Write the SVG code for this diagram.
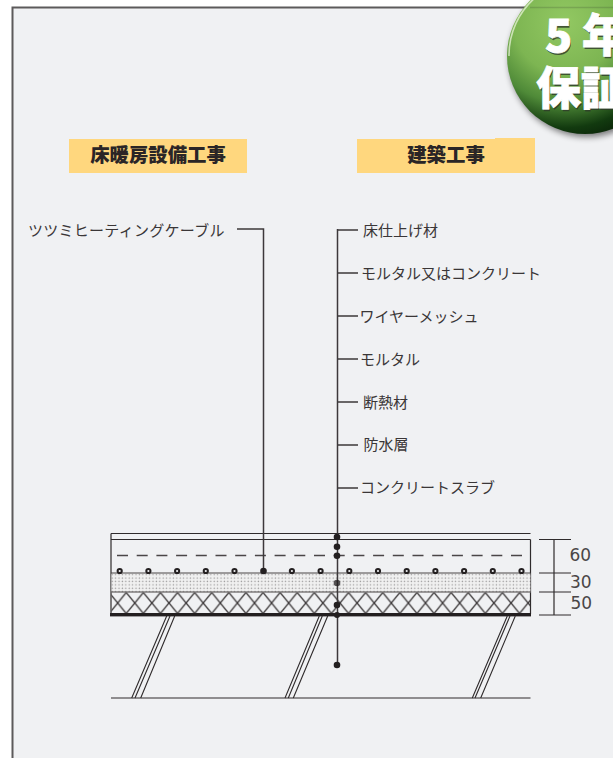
<svg xmlns="http://www.w3.org/2000/svg" width="613" height="758" viewBox="0 0 613 758">
<defs>
<style>
.ln{stroke:#2f2b2c;stroke-width:1.2;fill:none}
.ld{stroke:#3c383a;stroke-width:1.5;fill:none}
.lb{font-family:"Noto Sans CJK JP","Noto Sans",sans-serif;font-size:15px;fill:#3a3637}
.hd{font-family:"Noto Sans CJK JP","Noto Sans",sans-serif;font-size:19.4px;font-weight:900;fill:#2a2526;text-anchor:middle}
.bd{fill:#ffd77e}
.dm{font-family:"DejaVu Sans",sans-serif;font-size:17px;fill:#4a4647}
.dot{fill:#231f20}
.ring{fill:#f0f1f3;stroke:#231f20;stroke-width:2}
.bt{font-family:"Noto Sans CJK JP",sans-serif;font-size:45px;font-weight:900;fill:#fff;stroke:#fff;stroke-width:.8}
.bs{font-family:"Noto Sans CJK JP",sans-serif;font-size:45px;font-weight:900;fill:#2f3a2a;opacity:.8}
</style>
<pattern id="sand" width="3.4" height="3.4" patternUnits="userSpaceOnUse" x="111" y="573.5"><rect width="3.4" height="3.4" fill="#f0f0f0"/><circle cx="1.2" cy="1.2" r=".7" fill="#9c9a9b"/></pattern>
<pattern id="hatch" width="17.1" height="21" patternUnits="userSpaceOnUse" x="109.15" y="592.5"><path d="M0 0L17.1 21M17.1 0L0 21" stroke="#2f2b2c" stroke-width="1.2" fill="none"/></pattern>
<radialGradient id="gb" gradientUnits="userSpaceOnUse" cx="565" cy="22" r="115"><stop offset="0" stop-color="#92c862"/><stop offset=".45" stop-color="#7db552"/><stop offset=".7" stop-color="#4f8a38"/><stop offset=".92" stop-color="#123a0f"/><stop offset="1" stop-color="#0d2c0b"/></radialGradient>
<filter id="sh" x="-20%" y="-20%" width="140%" height="140%"><feGaussianBlur stdDeviation="3"/></filter>
</defs>
<rect width="613" height="758" fill="#fff"/>
<rect id="panel" x="12.5" y="7.500" width="601" height="751" fill="#f0f1f3"/>
<path id="panel-edge" d="M12.500 758V7.500H613" fill="none" stroke="#5c5a5b" stroke-width="2"/>

<g id="heading-heating"><rect class="bd" x="69" y="139" width="178" height="34"/><text class="hd" x="158" y="162">床暖房設備工事</text></g>
<g id="heading-building"><rect class="bd" x="357" y="139" width="178" height="34"/><rect class="bd" x="495" y="138" width="40" height="2"/><text class="hd" x="446" y="162">建築工事</text></g>

<g id="floor-section">
<path class="ln" d="M111 533.500H530.500M111 539.500H530.500M111 533.500V614M530.500 539.500V614M111 698H530.500"/>
<rect x="111.500" y="573.500" width="419" height="19" fill="url(#sand)"/>
<rect x="111.500" y="592.500" width="419" height="21" fill="url(#hatch)"/>
<path d="M117 555.500H530.500" stroke="#4a4647" stroke-width="1.500" stroke-dasharray="11 8.700" fill="none"/>
<path d="M111 573H530.500M111 592H530.500" stroke="#4a4647" stroke-width="1.200" fill="none"/>
<rect x="110" y="613" width="421" height="3.400" fill="#231f20"/>
<path d="M166.700 616L131.700 698M170 616L135 698M174.700 616L140.700 698M319.300 616L285 698M322.300 616L288.300 698M327.700 616L293.300 698M507.300 616L472.300 698M510 616L475 698M515.300 616L480.700 698" stroke="#2f2b2c" stroke-width="1.100" fill="none"/>
<g id="cables">
<circle class="ring" cx="119.700" cy="571" r="2.100"/><circle class="ring" cx="148.400" cy="571" r="2.100"/><circle class="ring" cx="177.100" cy="571" r="2.100"/><circle class="ring" cx="205.800" cy="571" r="2.100"/><circle class="ring" cx="234.500" cy="571" r="2.100"/><circle class="ring" cx="291.900" cy="571" r="2.100"/><circle class="ring" cx="320.600" cy="571" r="2.100"/><circle class="ring" cx="349.300" cy="571" r="2.100"/><circle class="ring" cx="378" cy="571" r="2.100"/><circle class="ring" cx="406.700" cy="571" r="2.100"/><circle class="ring" cx="435.400" cy="571" r="2.100"/><circle class="ring" cx="464.100" cy="571" r="2.100"/><circle class="ring" cx="492.800" cy="571" r="2.100"/><circle class="ring" cx="521.500" cy="571" r="2.100"/>
</g>
</g>

<g id="connectors">
<path class="ld" d="M237 229H263.500V571"/>
<path class="ld" d="M337.500 229V665M337.500 230H358M337.500 273H358M337.500 316H358M337.500 359H358M337.500 402H358M337.500 445H358M337.500 488H358"/>
<circle class="dot" cx="263.500" cy="571" r="3.300"/>
<circle class="dot" cx="337" cy="537" r="3.300"/><circle class="dot" cx="337" cy="546.700" r="3.300"/><circle class="dot" cx="337" cy="555.700" r="3.300"/><circle class="dot" cx="337" cy="583" r="3.300" fill-opacity=".75"/><circle class="dot" cx="337" cy="605" r="3.300"/><circle class="dot" cx="337" cy="615" r="3"/><circle class="dot" cx="337" cy="665" r="3.300"/>
</g>

<g id="label-cable"><text class="lb" x="28" y="235.500" textLength="196.500" lengthAdjust="spacing">ツツミヒーティングケーブル</text></g>
<g id="label-finish"><text class="lb" x="363" y="235.500">床仕上げ材</text></g>
<g id="label-mortar-concrete"><text class="lb" x="361" y="279">モルタル又はコンクリート</text></g>
<g id="label-mesh"><text class="lb" x="359.500" y="322">ワイヤーメッシュ</text></g>
<g id="label-mortar"><text class="lb" x="360" y="365">モルタル</text></g>
<g id="label-insulation"><text class="lb" x="363" y="407.500">断熱材</text></g>
<g id="label-waterproof"><text class="lb" x="363.500" y="450">防水層</text></g>
<g id="label-slab"><text class="lb" x="360" y="493">コンクリートスラブ</text></g>

<g id="dimensions">
<path class="ln" d="M554 539.500V615M539 539.500H571M539 573H571M539 592H571M539 615H571"/>
<text class="dm" x="569.500" y="561">60</text><text class="dm" x="570" y="587.500">30</text><text class="dm" x="570.500" y="609">50</text>
</g>

<g id="badge">
<circle cx="587" cy="59" r="78" fill="#000" opacity=".5" filter="url(#sh)"/>
<circle cx="585" cy="56" r="78" fill="url(#gb)"/>
<path d="M509 56A76 76 0 0 1 536 -3" stroke="#e8f3d8" stroke-width="1.600" fill="none" opacity=".75"/>
<path d="M530 7.500H613" stroke="#2f3a2a" stroke-width="1.500" opacity=".2"/>
<text class="bs" x="546" y="54">5</text><text class="bs" x="583" y="54">年</text><text class="bs" x="537" y="107">保</text><text class="bs" x="582" y="107">証</text>
<text class="bt" x="545" y="52">5</text><text class="bt" x="582" y="52">年</text><text class="bt" x="536" y="105">保</text><text class="bt" x="581" y="105">証</text>
</g>
</svg>
